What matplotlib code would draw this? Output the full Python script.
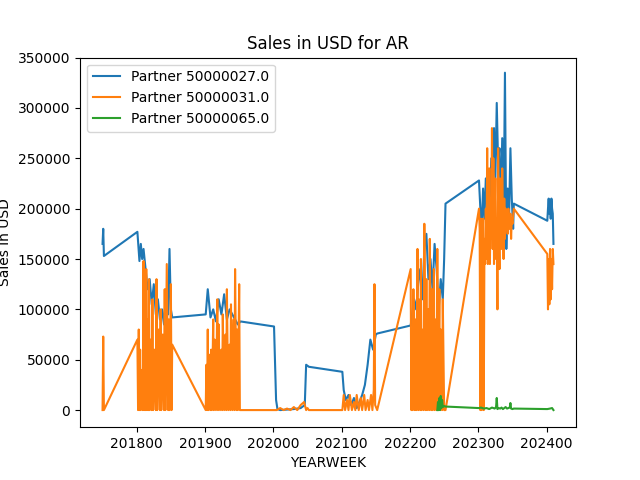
import numpy as np
import matplotlib.pyplot as plt

# weekly samples per year (week numbers)
weeks_blue = {
    2017: [50, 51, 52],
    2018: [1, 4, 6, 8, 10, 13, 16, 19, 22, 25, 28, 31, 34, 37, 40, 43, 46, 48, 50, 52],
    2019: [1, 4, 8, 12, 16, 20, 24, 28, 32, 36, 40, 44, 48, 52],
    2020: [1, 4, 6, 10, 20, 30, 40, 46, 48, 52],
    2021: [1, 3, 6, 10, 14, 18, 22, 26, 30, 34, 38, 42, 46, 50, 52],
    2022: [1, 3, 6, 9, 12, 15, 18, 21, 24, 27, 30, 33, 36, 39, 42, 45, 48, 50, 52],
    2023: [1, 3, 5, 7, 9, 11, 13, 15, 17, 19, 21, 23, 25, 27, 29, 31, 33, 35, 37, 39, 41, 43, 45, 47, 49, 51, 52],
    2024: [1, 2, 3, 4, 5, 6, 7, 8, 9, 10],
}
sales_blue = {
    2017: [165000, 180000, 153000],
    2018: [177000, 148000, 165000, 150000, 160000, 140000, 120000, 130000, 105000, 125000, 95000, 110000, 90000, 100000, 85000, 120000, 95000, 160000, 100000, 92000],
    2019: [95000, 120000, 92000, 100000, 88000, 110000, 95000, 115000, 90000, 100000, 95000, 90000, 85000, 88000],
    2020: [83000, 10000, 1000, 0, 500, 1000, 2000, 5000, 45000, 43000],
    2021: [38000, 20000, 10000, 15000, 5000, 12000, 2000, 8000, 15000, 25000, 45000, 70000, 60000, 75000, 76000],
    2022: [84000, 95000, 110000, 100000, 125000, 140000, 110000, 160000, 175000, 130000, 150000, 120000, 165000, 140000, 100000, 130000, 110000, 150000, 205000],
    2023: [228000, 200000, 180000, 220000, 190000, 230000, 205000, 185000, 200000, 250000, 215000, 280000, 230000, 305000, 245000, 260000, 200000, 270000, 180000, 335000, 160000, 220000, 190000, 260000, 210000, 180000, 205000],
    2024: [188000, 200000, 210000, 195000, 205000, 190000, 210000, 200000, 195000, 165000],
}

weeks_orange = {
    2017: [50, 51, 52],
    2018: [1, 2, 3, 4, 5, 6, 8, 9, 10, 11, 12, 13, 14, 15, 16, 17, 18, 19, 20, 22, 23, 24, 26, 28, 29, 30, 32, 34, 35, 36, 38, 40, 41, 42, 44, 46, 47, 48, 50, 51, 52],
    2019: [1, 2, 3, 4, 5, 6, 8, 9, 10, 12, 13, 14, 16, 18, 19, 20, 22, 24, 25, 26, 28, 30, 31, 32, 34, 36, 37, 38, 40, 42, 43, 44, 46, 47, 48, 50, 51, 52],
    2020: [1, 5, 10, 15, 20, 25, 30, 35, 40, 45, 48, 50, 52],
    2021: [1, 3, 5, 8, 10, 12, 15, 18, 20, 22, 25, 28, 30, 33, 35, 38, 40, 43, 45, 47, 48, 49, 52],
    2022: [1, 2, 3, 4, 5, 7, 8, 9, 11, 12, 13, 15, 16, 17, 19, 20, 21, 23, 24, 25, 27, 28, 29, 31, 32, 33, 35, 36, 37, 39, 40, 41, 43, 44, 45, 47, 48, 50, 52],
    2023: [1, 2, 3, 4, 5, 6, 7, 8, 9, 10, 11, 12, 13, 14, 15, 16, 17, 18, 19, 20, 21, 22, 23, 24, 25, 26, 27, 28, 29, 30, 31, 32, 33, 34, 35, 36, 37, 38, 39, 40, 41, 42, 43, 44, 45, 46, 47, 48, 49, 50, 52],
    2024: [1, 2, 3, 4, 5, 6, 7, 8, 9, 10],
}
sales_orange = {
    2017: [0, 73000, 0],
    2018: [70000, 0, 80000, 0, 60000, 0, 40000, 0, 148000, 0, 120000, 0, 140000, 0, 90000, 0, 130000, 0, 70000, 0, 110000, 0, 60000, 0, 130000, 0, 80000, 0, 100000, 0, 75000, 0, 120000, 0, 145000, 0, 90000, 0, 125000, 0, 65000],
    2019: [0, 45000, 0, 80000, 0, 55000, 0, 60000, 0, 90000, 0, 70000, 0, 110000, 0, 85000, 0, 60000, 0, 95000, 0, 75000, 0, 120000, 0, 65000, 0, 105000, 0, 90000, 0, 140000, 0, 80000, 0, 125000, 0, 0],
    2020: [0, 0, 2000, 0, 1500, 0, 3000, 0, 5000, 8000, 0, 2000, 0],
    2021: [0, 15000, 0, 10000, 0, 15000, 0, 8000, 0, 15000, 0, 12000, 0, 15000, 0, 10000, 0, 15000, 0, 20000, 125000, 5000, 0],
    2022: [140000, 0, 60000, 0, 120000, 0, 90000, 0, 160000, 0, 110000, 0, 150000, 0, 80000, 0, 185000, 0, 130000, 0, 100000, 0, 170000, 0, 120000, 0, 140000, 0, 90000, 0, 160000, 0, 120000, 0, 80000, 0, 110000, 0, 0],
    2023: [200000, 180000, 0, 190000, 0, 160000, 190000, 0, 170000, 145000, 200000, 150000, 260000, 145000, 180000, 240000, 145000, 210000, 170000, 280000, 160000, 250000, 145000, 200000, 230000, 150000, 190000, 100000, 260000, 180000, 140000, 230000, 200000, 160000, 240000, 190000, 150000, 210000, 170000, 200000, 180000, 190000, 175000, 200000, 185000, 180000, 195000, 170000, 190000, 185000, 200000],
    2024: [155000, 100000, 150000, 105000, 160000, 110000, 150000, 120000, 160000, 145000],
}

weeks_green = {
    2022: [40, 41, 42, 43, 44, 45, 46, 47, 48, 50, 52],
    2023: [1, 4, 8, 12, 16, 20, 24, 26, 27, 28, 30, 32, 34, 36, 38, 40, 42, 44, 46, 47, 48, 50, 52],
    2024: [1, 5, 8, 10],
}
sales_green = {
    2022: [0, 8000, 0, 12000, 0, 14000, 2000, 10000, 3000, 4000, 3500],
    2023: [2000, 2500, 1500, 2000, 1000, 2500, 1500, 3000, 12000, 1000, 2000, 1500, 2500, 1000, 2000, 3000, 1500, 2000, 2500, 7000, 1500, 1000, 1500],
    2024: [1000, 1500, 2000, 0],
}

partners = ['50000027.0', '50000031.0', '50000065.0']


def flatten(weeks, sales):
    xs, ys = [], []
    for yr in sorted(weeks):
        xs += [yr * 100 + w for w in weeks[yr]]
        ys += sales[yr]
    return np.array(xs), np.array(ys)


fig, ax = plt.subplots(figsize=(6.4, 4.8), dpi=100)
for p, (w, s) in zip(partners, [(weeks_blue, sales_blue), (weeks_orange, sales_orange), (weeks_green, sales_green)]):
    x, y = flatten(w, s)
    ax.plot(x, y, label='Partner ' + p)
ax.set_title('Sales in USD for AR')
ax.set_xlabel('YEARWEEK')
ax.set_ylabel('Sales in USD')
ax.set_ylim(-17000, 350000)
ax.legend(loc='upper left')
fig.savefig('out.png')
